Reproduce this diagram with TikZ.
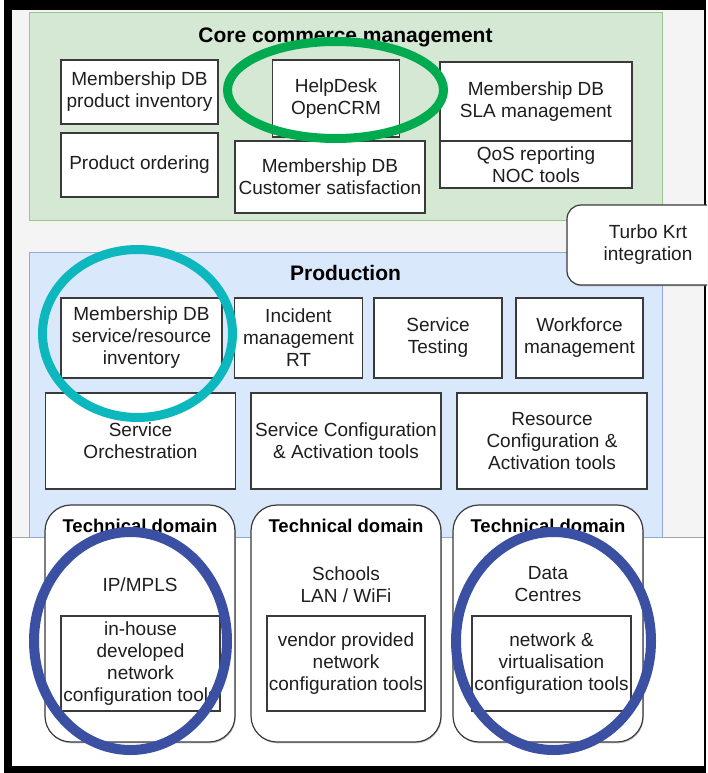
\documentclass[tikz,border=0pt]{standalone}
\usepackage{fontspec}
\setmainfont{Liberation Sans}
\usetikzlibrary{shadows,shapes.geometric}

\definecolor{pagegray}{HTML}{F4F4F4}
\definecolor{greenfill}{HTML}{D5E8D4}
\definecolor{greenline}{HTML}{9BC68A}
\definecolor{bluefill}{HTML}{DAE8FC}
\definecolor{blueline}{HTML}{8FAAD8}
\definecolor{boxline}{HTML}{3A3A3A}
\definecolor{inktext}{HTML}{1E1E1E}
\definecolor{ringgreen}{HTML}{00AA4F}
\definecolor{ringteal}{HTML}{0CB8BE}
\definecolor{ringblue}{HTML}{3B50A2}

\begin{document}
\begin{tikzpicture}[x=1pt,y=-1pt,
  softshadow/.style={drop shadow={shadow xshift=0.8pt,shadow yshift=-1.4pt,fill=black!45,opacity=0.45}},
  box/.style={draw=boxline,fill=white,line width=1.2pt,inner sep=0pt,align=center,
    text=inktext,font=\fontsize{19}{22}\selectfont,softshadow},
  group/.style={line width=1pt,inner sep=0pt},
  domainbox/.style={draw=boxline,fill=white,line width=1.2pt,inner sep=0pt,
    rounded corners=26pt,softshadow},
  grouptitle/.style={font=\bfseries\fontsize{21}{24}\selectfont,text=black,inner sep=0pt},
  domaintitle/.style={font=\bfseries\fontsize{18.5}{22}\selectfont,text=black,inner sep=0pt},
  plain/.style={align=center,font=\fontsize{19}{22}\selectfont,text=inktext,inner sep=0pt},
  ring/.style={draw,ellipse,inner sep=0pt,fill=none}
]
\useasboundingbox (0,0) rectangle (707,773);
\clip (0,0) rectangle (707,773);

% frame and page background
\fill[white] (0,0) rectangle (707,773);
\fill[black] (4,0) rectangle (706,773);
\fill[pagegray] (12,10) rectangle (704,537);
\fill[white] (12,537) rectangle (704,766);
\draw[black!35,line width=1pt] (12,537) -- (704,537);

% layer containers
\node[group,draw=greenline,fill=greenfill,minimum width=633pt,minimum height=207pt] (core) at (345.5,116.5) {};
\node[group,draw=blueline,fill=bluefill,minimum width=633pt,minimum height=285pt] (prod) at (345.5,394.5) {};
\node[grouptitle] (coretitle) at (345.5,37) {Core commerce management};
\node[grouptitle] (prodtitle) at (345.5,273) {Production};

% integration box across both layers
\node[box,rounded corners=14pt,minimum width=162pt,minimum height=80pt] (turbo) at (648,245) {Turbo Krt\\integration};

% core commerce management
\node[box,minimum width=157pt,minimum height=64pt] (inv) at (139.5,92) {Membership DB\\product inventory};
\node[box,minimum width=157pt,minimum height=64pt] (ord) at (139.5,165) {Product ordering};
\node[box,minimum width=127pt,minimum height=77pt] (crm) at (336,98.5) {HelpDesk\\OpenCRM};
\node[box,minimum width=190pt,minimum height=72pt] (sat) at (330,177) {Membership DB\\Customer satisfaction};
\node[box,minimum width=192pt,minimum height=79pt] (sla) at (536,101.5) {Membership DB\\SLA management};
\node[box,minimum width=192pt,minimum height=47pt] (qos) at (536,164.5) {QoS reporting\\NOC tools};

% production
\node[box,minimum width=161pt,minimum height=80pt] (sri) at (141.5,338) {Membership DB\\service/resource\\inventory};
\node[box,minimum width=128pt,minimum height=80pt] (inc) at (298.5,338) {Incident\\management\\RT};
\node[box,minimum width=128pt,minimum height=80pt] (test) at (438,338) {Service\\Testing};
\node[box,minimum width=127pt,minimum height=80pt] (wfm) at (579.5,338) {Workforce\\management};
\node[box,minimum width=190pt,minimum height=96pt] (orch) at (140.5,441) {Service\\Orchestration};
\node[box,minimum width=190pt,minimum height=96pt] (sca) at (346,441) {Service Configuration\\\& Activation tools};
\node[box,minimum width=190pt,minimum height=96pt] (rca) at (552,441) {Resource\\Configuration \&\\Activation tools};

% technical domains
\node[domainbox,minimum width=190pt,minimum height=237pt] (dom1) at (140,623.5) {};
\node[domainbox,minimum width=190pt,minimum height=237pt] (dom2) at (346,623.5) {};
\node[domainbox,minimum width=190pt,minimum height=237pt] (dom3) at (548,623.5) {};
\node[domaintitle] (dom1title) at (140,526) {Technical domain};
\node[domaintitle] (dom2title) at (346,526) {Technical domain};
\node[domaintitle] (dom3title) at (548,526) {Technical domain};
\node[plain] (ipmpls) at (140,585) {IP/MPLS};
\node[plain] (schools) at (346,584.5) {Schools\\LAN / WiFi};
\node[plain] (dc) at (548,584.5) {Data\\Centres};
\node[box,minimum width=159pt,minimum height=95pt] (tool1) at (140.5,663.5) {in-house\\developed\\network\\configuration tools};
\node[box,minimum width=158pt,minimum height=95pt] (tool2) at (346,663.5) {vendor provided\\network\\configuration tools};
\node[box,minimum width=159pt,minimum height=95pt] (tool3) at (551.5,663.5) {network \&\\virtualisation\\configuration tools};

% highlight rings
\node[ring,draw=ringgreen,line width=9pt,minimum width=216pt,minimum height=97pt] (ringcrm) at (335.5,90) {};
\node[ring,draw=ringteal,line width=9pt,minimum width=190pt,minimum height=168pt] (ringinv) at (137.5,333.5) {};
\node[ring,draw=ringblue,line width=10pt,minimum width=193pt,minimum height=218pt] (ringip) at (130.5,641) {};
\node[ring,draw=ringblue,line width=10pt,minimum width=195pt,minimum height=218pt] (ringdc) at (553.5,641) {};
\end{tikzpicture}
\end{document}
